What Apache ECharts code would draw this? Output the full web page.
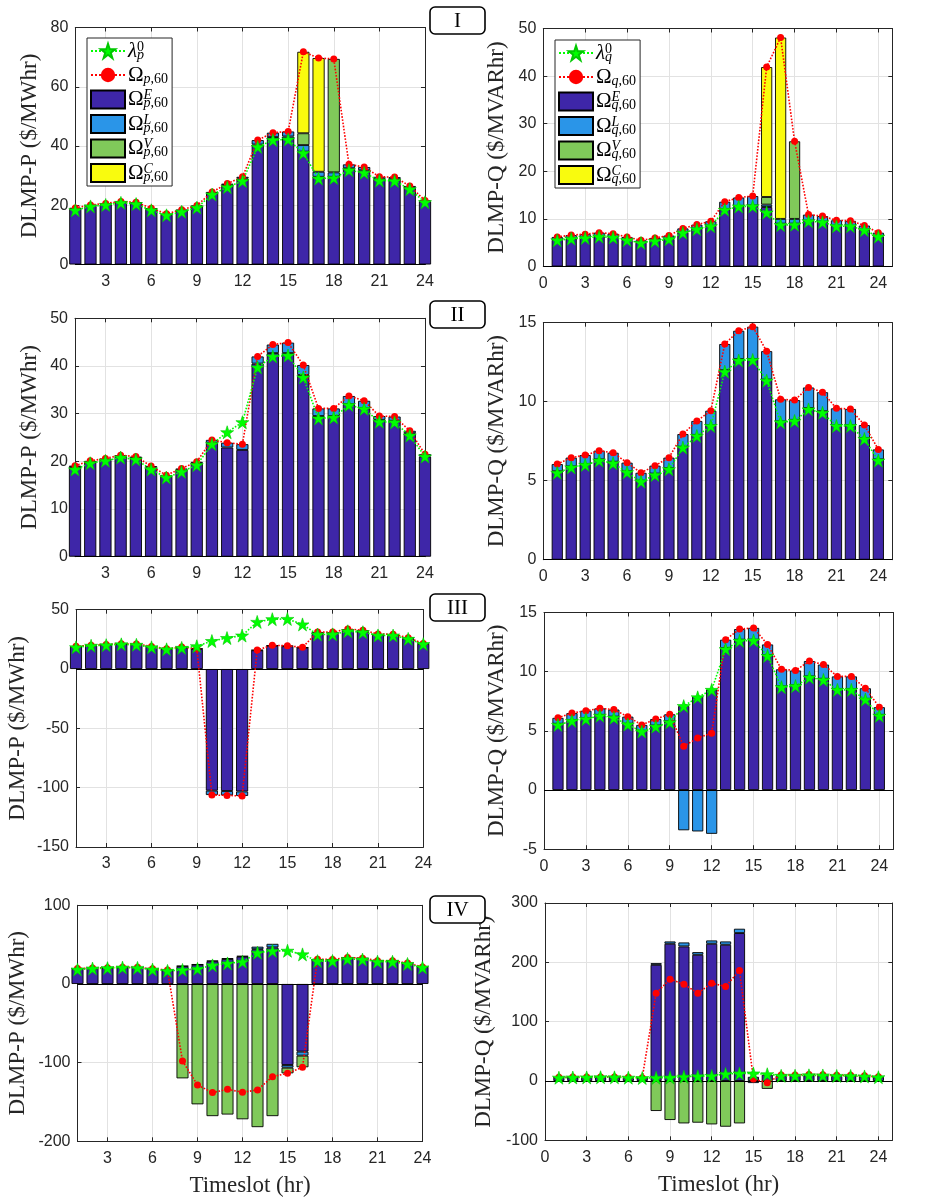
<!DOCTYPE html>
<html><head><meta charset="utf-8">
<script src="https://cdn.jsdelivr.net/npm/echarts@6/dist/echarts.min.js"></script>
<style>html,body{margin:0;padding:0;background:#fff}#c{width:936px;height:1199px}</style>
</head><body><div id="c"></div>
<script>
// ---------- data ----------
const slots = [1,2,3,4,5,6,7,8,9,10,11,12,13,14,15,16,17,18,19,20,21,22,23,24];
const rightCats = [0,1,2,3,4,5,6,7,8,9,10,11,12,13,14,15,16,17,18,19,20,21,22,23,24,25];
const xTicksLeft = [3,6,9,12,15,18,21,24];
const xTicksRight = [0,3,6,9,12,15,18,21,24];

const lambdaP = [18.3,19.6,20.1,20.8,20.4,18.3,16.6,17.8,19.2,23.6,26.1,28.2,39.7,42.0,42.2,37.6,29.0,29.2,31.8,31.0,28.3,28.2,25.4,21.0];
const lambdaQ = [5.5,5.84,6.0,6.27,6.1,5.53,4.94,5.36,5.72,7.09,7.83,8.46,11.9,12.6,12.64,11.33,8.69,8.78,9.51,9.3,8.46,8.46,7.64,6.27];

// Case I
const p1E = [18.8,19.8,20.3,21.0,20.7,18.7,16.8,18.2,19.6,24.0,26.8,29.0,40.5,43.0,43.2,38.1,29.6,29.6,32.5,31.8,28.8,28.8,25.9,21.3];
const p1L = [0.3,0.3,0.3,0.3,0.3,0.3,0.3,0.3,0.3,0.5,0.5,0.6,1.5,1.5,1.7,2.2,1.7,1.5,1.3,1.1,0.8,0.7,0.6,0.3];
const p1V = [0,0,0,0,0,0,0,0,0,0,0,0,0,0,0,4.0,0,38.3,0,0,0,0,0,0];
const p1C = [0,0,0,0,0,0,0,0,0,0,0,0,0,0,0,27.5,38.4,0,0,0,0,0,0,0];
const p1Tot = [19.1,20.1,20.6,21.3,21.0,19.0,17.1,18.5,19.9,24.5,27.3,29.6,42.0,44.5,44.9,71.8,69.7,69.4,33.8,32.9,29.6,29.5,26.5,21.6];
const q1E = [5.6,5.9,6.05,6.35,6.2,5.6,5.0,5.45,5.8,7.2,7.95,8.55,12.0,12.7,12.8,12.5,9.0,9.0,9.6,9.4,8.55,8.55,7.7,6.35];
const q1L = [0.6,0.7,0.75,0.75,0.7,0.6,0.5,0.55,0.7,0.8,0.85,0.95,1.6,1.8,2.0,0.5,1.0,1.0,1.3,1.2,1.15,1.05,0.9,0.75];
const q1V = [0,0,0,0,0,0,0,0,0,0,0,0,0,0,0,1.6,0,16.3,0,0,0,0,0,0];
const q1C = [0,0,0,0,0,0,0,0,0,0,0,0,0,0,0,27.3,38.1,0,0,0,0,0,0,0];
const q1Tot = [6.2,6.6,6.8,7.1,6.9,6.2,5.5,6.0,6.5,8.0,8.8,9.5,13.6,14.5,14.8,41.9,48.1,26.3,10.9,10.6,9.7,9.6,8.6,7.1];

// Case II
const p2E = [18.8,19.8,20.3,21.0,20.7,18.7,16.8,18.2,19.6,23.9,22.9,22.4,40.5,42.7,42.7,38.1,29.5,29.5,32.0,31.1,28.7,28.5,25.9,21.0];
const p2L = [0.3,0.3,0.3,0.3,0.3,0.3,0.3,0.3,0.3,0.6,1.0,1.2,1.5,1.8,2.2,2.1,1.6,1.6,1.7,1.6,0.8,0.9,0.5,0.5];
const p2V = [0,0,0,0,0,0,0,0,0,0,0,0,0,0,0,0,0,0,0,0,0,0,0,0];
const p2C = [0,0,0,0,0,0,0,0,0,0,0,0,0,0,0,0,0,0,0,0,0,0,0,0];
const p2Tot = [19.1,20.1,20.6,21.3,21.0,19.0,17.1,18.5,19.9,24.5,23.9,23.6,42.0,44.5,44.9,40.2,31.1,31.1,33.7,32.7,29.5,29.4,26.4,21.5];
const q2E = [5.6,5.9,6.05,6.35,6.2,5.6,5.0,5.45,5.8,7.15,7.9,8.5,12.0,12.7,12.7,11.4,8.75,8.85,9.6,9.4,8.5,8.5,7.7,6.35];
const q2L = [0.45,0.56,0.57,0.55,0.57,0.54,0.5,0.5,0.66,0.8,0.88,0.93,1.65,1.79,2.05,1.8,1.4,1.25,1.3,1.2,1.08,1.04,0.82,0.63];
const q2V = [0,0,0,0,0,0,0,0,0,0,0,0,0,0,0,0,0,0,0,0,0,0,0,0];
const q2C = [0,0,0,0,0,0,0,0,0,0,0,0,0,0,0,0,0,0,0,0,0,0,0,0];
const q2Tot = [6.05,6.46,6.62,6.9,6.77,6.14,5.5,5.95,6.46,7.95,8.78,9.43,13.65,14.49,14.75,13.2,10.15,10.1,10.9,10.6,9.58,9.54,8.52,6.98];

// Case III
const p3E = [18.8,19.8,20.3,21.0,20.7,18.7,16.8,18.2,17.0,-102.5,-102.8,-103.2,15.8,19.6,19.2,18.0,29.6,29.6,32.3,31.5,28.8,28.7,25.9,21.2];
const p3L = [0.3,0.3,0.3,0.3,0.3,0.3,0.3,0.3,0.2,-3.7,-3.7,-3.8,0.2,0.4,0.4,0.3,1.5,1.5,1.4,1.2,0.7,0.7,0.5,0.3];
const p3V = [0,0,0,0,0,0,0,0,0,0,0,0,0,0,0,0,0,0,0,0,0,0,0,0];
const p3C = [0,0,0,0,0,0,0,0,0,0,0,0,0,0,0,0,0,0,0,0,0,0,0,0];
const p3Tot = [19.1,20.1,20.6,21.3,21.0,19.0,17.1,18.5,17.2,-106.2,-106.5,-107.0,16.0,20.0,19.6,18.3,31.1,31.1,33.7,32.7,29.5,29.4,26.4,21.5];
const q3E = [5.6,5.9,6.05,6.35,6.2,5.6,5.0,5.45,5.8,7.1,7.9,8.5,12.0,12.7,12.7,11.4,8.75,8.85,9.6,9.4,8.5,8.5,7.7,6.35];
const q3L = [0.5,0.6,0.65,0.55,0.6,0.6,0.5,0.55,0.6,-3.4,-3.5,-3.7,0.7,0.9,1.0,0.9,1.45,1.25,1.3,1.2,1.1,1.1,0.9,0.65];
const q3V = [0,0,0,0,0,0,0,0,0,0,0,0,0,0,0,0,0,0,0,0,0,0,0,0];
const q3C = [0,0,0,0,0,0,0,0,0,0,0,0,0,0,0,0,0,0,0,0,0,0,0,0];
const q3Tot = [6.1,6.5,6.7,6.9,6.8,6.2,5.5,6.0,6.4,3.7,4.4,4.8,12.7,13.6,13.7,12.3,10.2,10.1,10.9,10.6,9.6,9.6,8.6,7.0];

// Case IV
const p4E = [19.4,19.9,20.4,21.1,20.8,18.9,17.4,22.5,24.5,28.8,31.8,34.8,44.2,46.5,-103.0,-86.0,31.0,30.9,33.4,32.5,29.3,29.3,26.2,21.4];
const p4L = [0.3,0.3,0.3,0.3,0.3,0.3,0.3,0.4,0.5,0.8,0.8,0.8,3.2,4.5,-3.4,-5.1,0.3,0.3,0.3,0.3,0.3,0.3,0.3,0.3];
const p4V = [0,0,0,0,0,0,0,-120,-153,-168,-166,-172,-182,-168,-7.2,-14.8,0,0,0,0,0,0,0,0];
const p4C = [0,0,0,0,0,0,0,0,0,0,0,0,0,0,0,0,0,0,0,0,0,0,0,0];
const p4Tot = [19.7,20.2,20.7,21.4,21.1,19.2,17.7,-97.9,-128.4,-138.1,-133.9,-137.7,-134.7,-117.8,-113.6,-105.9,31.3,31.2,33.7,32.8,29.6,29.6,26.5,21.7];
const q4E = [5.6,5.9,6.05,6.35,6.2,5.6,5.0,195.8,231.3,226.8,212.7,231.3,229.6,249.3,7.0,10.5,8.75,8.85,9.6,9.4,8.5,8.5,7.7,6.35];
const q4L = [0.5,0.6,0.65,0.55,0.6,0.6,0.5,2.8,3.9,6.7,4.5,5.6,5.6,7.3,-3.5,0,1.45,1.25,1.3,1.2,1.1,1.1,0.9,0.65];
const q4V = [0,0,0,0,0,0,0,-50.6,-65.8,-71.5,-70.3,-73.2,-77.1,-71.5,0,-13.3,0,0,0,0,0,0,0,0];
const q4C = [0,0,0,0,0,0,0,0,0,0,0,0,0,0,0,0,0,0,0,0,0,0,0,0];
const q4Tot = [6.1,6.5,6.7,6.9,6.8,6.2,5.5,148,171.6,163.2,148,164.9,159.3,186.3,3.5,-2.8,10.2,10.1,10.9,10.6,9.6,9.6,8.6,7.0];

// ---------- layout / style ----------
const COL = {E:'#3E26A8', L:'#2A95E8', V:'#80C95A', C:'#F9FB0E'};
const AX = '#262626';
const STAR = 'path://M50,0 L61.8,35.1 L98.9,35.1 L68.9,56.8 L80.2,91.9 L50,70.2 L19.8,91.9 L31.1,56.8 L1.1,35.1 L38.2,35.1 Z';

const panels = [
  {q:false, E:p1E, L:p1L, V:p1V, C:p1C, tot:p1Tot, y:[0,80,20], g:[75.3,27.5,349.7,237], gap:34},
  {q:true,  E:q1E, L:q1L, V:q1V, C:q1C, tot:q1Tot, y:[0,50,10], g:[543.3,28.5,349,238], gap:35},
  {q:false, E:p2E, L:p2L, V:p2V, C:p2C, tot:p2Tot, y:[0,50,10], g:[75,318.3,350,238.4], gap:34},
  {q:true,  E:q2E, L:q2L, V:q2V, C:q2C, tot:q2Tot, y:[0,15,5], g:[543.3,322.7,349,237], gap:35},
  {q:false, E:p3E, L:p3L, V:p3V, C:p3C, tot:p3Tot, y:[-150,50,50], g:[76,609.7,347.3,237.3], gap:47},
  {q:true,  E:q3E, L:q3L, V:q3V, C:q3C, tot:q3Tot, y:[-5,15,5], g:[544,612.5,349.3,236.7], gap:36},
  {q:false, E:p4E, L:p4L, V:p4V, C:p4C, tot:p4Tot, y:[-200,100,100], g:[77.5,905.3,345,236], gap:48},
  {q:true,  E:q4E, L:q4L, V:q4V, C:q4C, tot:q4Tot, y:[-100,300,100], g:[545,903,347.3,237.3], gap:50}
];

const grids = [], xAxes = [], yAxes = [], series = [];
const labelFont = {fontFamily:'Liberation Sans', fontSize:16, color:AX};
const nameFont = {fontFamily:'Liberation Serif', fontSize:23, color:AX};

panels.forEach((p, i) => {
  grids.push({left:p.g[0], top:p.g[1], width:p.g[2], height:p.g[3], containLabel:false});
  const cats = p.q ? rightCats : slots;
  const ticks = p.q ? xTicksRight : xTicksLeft;
  const show = (idx) => ticks.indexOf(cats[idx]) >= 0;
  const mapData = (arr) => cats.map(c => {
    const j = slots.indexOf(c);
    if (j < 0) return null;
    return arr[j];
  });
  const mapBar = (arr) => mapData(arr).map(v => (v === 0 ? null : v));
  xAxes.push({
    type:'category', gridIndex:i, data:cats, boundaryGap:false, position:'bottom',
    axisLine:{show:true, onZero:false, lineStyle:{color:AX, width:1}},
    axisTick:{show:true, inside:true, length:4, interval:(idx)=>show(idx), lineStyle:{color:AX}},
    axisLabel:{show:true, interval:(idx)=>show(idx), margin:9, ...labelFont},
    splitLine:{show:true, interval:(idx)=>show(idx), lineStyle:{color:'#e2e2e2', width:1}},
    name: i >= 6 ? 'Timeslot (hr)' : '', nameLocation:'middle', nameGap:33, nameTextStyle:nameFont
  });
  xAxes.push({
    type:'category', gridIndex:i, data:cats, boundaryGap:false, position:'top',
    axisLine:{show:true, onZero:false, lineStyle:{color:AX, width:1}},
    axisTick:{show:true, inside:true, length:4, interval:(idx)=>show(idx), lineStyle:{color:AX}},
    axisLabel:{show:false}, splitLine:{show:false}
  });
  yAxes.push({
    type:'value', gridIndex:i, min:p.y[0], max:p.y[1], interval:p.y[2], position:'left',
    axisLine:{show:true, onZero:false, lineStyle:{color:AX, width:1}},
    axisTick:{show:true, inside:true, length:4, lineStyle:{color:AX}},
    axisLabel:{show:true, margin:7, ...labelFont},
    splitLine:{show:true, lineStyle:{color:'#e2e2e2', width:1}},
    name: p.q ? 'DLMP-Q ($/MVARhr)' : 'DLMP-P ($/MWhr)', nameLocation:'middle', nameGap:p.gap, nameTextStyle:nameFont
  });
  yAxes.push({
    type:'value', gridIndex:i, min:p.y[0], max:p.y[1], interval:p.y[2], position:'right',
    axisLine:{show:true, onZero:false, lineStyle:{color:AX, width:1}},
    axisTick:{show:true, inside:true, length:4, lineStyle:{color:AX}},
    axisLabel:{show:false}, splitLine:{show:false}
  });
  const sfx = p.q ? 'Q' : 'P';
  ['E','L','V','C'].forEach((k, ki) => {
    const s = {
      type:'bar', name:k + sfx, xAxisIndex:2*i, yAxisIndex:2*i, stack:'st' + i,
      barWidth:'80%', data:mapBar(p[k]), clip:true, z:2,
      itemStyle:{color:COL[k], borderColor:'#000', borderWidth:0.9}
    };
    if (ki === 0) {
      s.markLine = {silent:true, symbol:['none','none'], label:{show:false}, animation:false,
        lineStyle:{color:'#000', width:1, type:'solid'}, data:[{yAxis:0}], z:3};
    }
    series.push(s);
  });
  series.push({
    type:'line', name:'Om' + sfx, xAxisIndex:2*i, yAxisIndex:2*i, data:mapData(p.tot),
    symbol:'circle', symbolSize:7, z:5, showAllSymbol:true, connectNulls:false,
    lineStyle:{color:'#ff0000', width:1.6, type:'dotted'},
    itemStyle:{color:'#ff0000'}
  });
  series.push({
    type:'line', name:'lam' + sfx, xAxisIndex:2*i, yAxisIndex:2*i, data:mapData(p.q ? lambdaQ : lambdaP),
    symbol:STAR, symbolSize:13, z:6, showAllSymbol:true,
    lineStyle:{color:'#00ff00', width:1.6, type:'dotted'},
    itemStyle:{color:'#00ff00', borderColor:'#00c800', borderWidth:0.6}
  });
});

function legendLabel(name) {
  const s = name.endsWith('Q') ? 'q' : 'p';
  const k = name.slice(0, -1);
  if (k === 'lam') return '{g|λ}{sp|0}{si|' + s + '}';
  if (k === 'Om') return '{o|Ω}{si|' + s + '}{sb|,60}';
  return '{o|Ω}{spi|' + k + '}{si|' + s + '}{sb|,60}';
}
const richStyle = {
  o:{fontFamily:'Liberation Serif', fontSize:21, lineHeight:22, color:'#000'},
  g:{fontFamily:'Liberation Serif', fontStyle:'italic', fontSize:21, lineHeight:22, color:'#000'},
  sp:{fontFamily:'Liberation Serif', fontSize:14, lineHeight:13, verticalAlign:'top', width:0, color:'#000'},
  spi:{fontFamily:'Liberation Serif', fontStyle:'italic', fontSize:14, lineHeight:13, verticalAlign:'top', width:0, color:'#000'},
  si:{fontFamily:'Liberation Serif', fontStyle:'italic', fontSize:14, lineHeight:13, verticalAlign:'bottom', color:'#000'},
  sb:{fontFamily:'Liberation Serif', fontSize:14, lineHeight:13, verticalAlign:'bottom', color:'#000'}
};
function makeLegend(sfx, left, top) {
  return {
    orient:'vertical', left:left, top:top, align:'left',
    itemWidth:34, itemHeight:18, itemGap:2.5, padding:[2,4,2,3],
    backgroundColor:'#fff', borderColor:AX, borderWidth:1, z:10,
    selectedMode:false,
    data:[
      {name:'lam' + sfx}, {name:'Om' + sfx},
      {name:'E' + sfx, icon:'rect'}, {name:'L' + sfx, icon:'rect'},
      {name:'V' + sfx, icon:'rect'}, {name:'C' + sfx, icon:'rect'}
    ],
    formatter:legendLabel,
    textStyle:{rich:richStyle, padding:[0,0,0,-2]}
  };
}

const boxes = [['I',7],['II',301],['III',594],['IV',896]];
const graphic = [];
boxes.forEach(b => {
  graphic.push({type:'rect', x:430, y:b[1], z:20,
    shape:{x:0, y:0, width:55, height:27, r:5}, style:{fill:'#fff', stroke:'#000', lineWidth:1.6}});
  graphic.push({type:'text', x:457.5, y:b[1] + 14, z:21,
    style:{text:b[0], fontFamily:'Liberation Serif', fontSize:21, fill:'#000', align:'center', verticalAlign:'middle'}});
});

const chart = echarts.init(document.getElementById('c'), null, {renderer:'canvas'});
chart.setOption({
  animation:false,
  backgroundColor:'#fff',
  grid:grids, xAxis:xAxes, yAxis:yAxes, series:series,
  legend:[makeLegend('P', 87, 38), makeLegend('Q', 555, 40)],
  graphic:graphic
});
</script></body></html>
